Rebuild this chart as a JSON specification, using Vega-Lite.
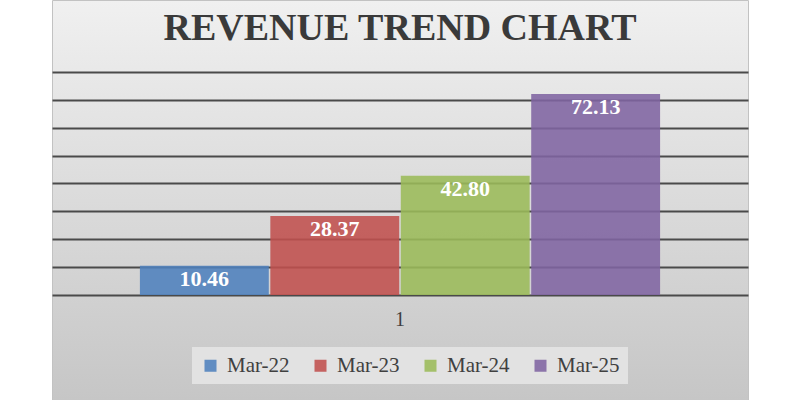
{
  "$schema": "https://vega.github.io/schema/vega-lite/v6.json",
  "width": 696,
  "height": 400,
  "autosize": {"type": "none"},
  "padding": {"left": 52, "top": 0, "right": 52, "bottom": 0},
  "background": "white",
  "title": {
    "text": "REVENUE TREND CHART",
    "font": "Liberation Serif",
    "fontSize": 38,
    "fontWeight": "bold",
    "color": "#3a3a3a",
    "anchor": "middle",
    "frame": "group",
    "offset": -48
  },
  "config": {
    "view": {
      "fill": {
        "gradient": "linear",
        "x1": 0, "y1": 0, "x2": 0, "y2": 1,
        "stops": [
          {"offset": 0, "color": "#f0f0f0"},
          {"offset": 1, "color": "#c6c6c6"}
        ]
      },
      "stroke": "#c2c2c2"
    },
    "legend": {
      "orient": "none",
      "legendX": 140,
      "legendY": 347,
      "direction": "horizontal",
      "symbolType": "square",
      "symbolSize": 144,
      "symbolStrokeWidth": 0,
      "labelFont": "Liberation Serif",
      "labelFontSize": 21,
      "labelColor": "#404040",
      "labelOffset": 6,
      "columnPadding": 20,
      "fillColor": "#e2e2e2",
      "padding": 8
    }
  },
  "data": {
    "values": [
      {"g": "1", "period": "Mar-22", "revenue": 10.46},
      {"g": "1", "period": "Mar-23", "revenue": 28.37},
      {"g": "1", "period": "Mar-24", "revenue": 42.80},
      {"g": "1", "period": "Mar-25", "revenue": 72.13}
    ]
  },
  "encoding": {
    "x": {
      "field": "g",
      "type": "nominal",
      "scale": {"paddingInner": 0, "paddingOuter": 0.169},
      "axis": {
        "title": null,
        "labelAngle": 0,
        "ticks": false,
        "tickSize": 0,
        "domain": false,
        "offset": -105,
        "labelPadding": 14,
        "labelFont": "Liberation Serif",
        "labelFontSize": 20,
        "labelColor": "#404040"
      }
    },
    "xOffset": {
      "field": "period",
      "type": "nominal",
      "scale": {"paddingInner": 0.012, "paddingOuter": 0}
    },
    "y": {
      "field": "revenue",
      "type": "quantitative",
      "scale": {"domain": [-37.67, 105.83], "nice": false, "zero": false},
      "axis": {
        "title": null,
        "values": [0, 10, 20, 30, 40, 50, 60, 70, 80],
        "labels": false,
        "ticks": false,
        "domain": false,
        "grid": true,
        "gridColor": "#4a4a4a",
        "gridWidth": 2
      }
    }
  },
  "layer": [
    {
      "mark": {"type": "bar", "opacity": 0.88},
      "encoding": {
        "color": {
          "field": "period",
          "type": "nominal",
          "scale": {
            "domain": ["Mar-22", "Mar-23", "Mar-24", "Mar-25"],
            "range": ["#4F81BD", "#C0504D", "#9BBB59", "#8064A2"]
          },
          "legend": {"title": null}
        }
      }
    },
    {
      "mark": {
        "type": "text",
        "font": "Liberation Serif",
        "fontSize": 22,
        "fontWeight": "bold",
        "color": "white",
        "baseline": "middle",
        "dy": 13
      },
      "encoding": {
        "text": {"field": "revenue", "type": "quantitative", "format": ".2f"}
      }
    }
  ]
}
